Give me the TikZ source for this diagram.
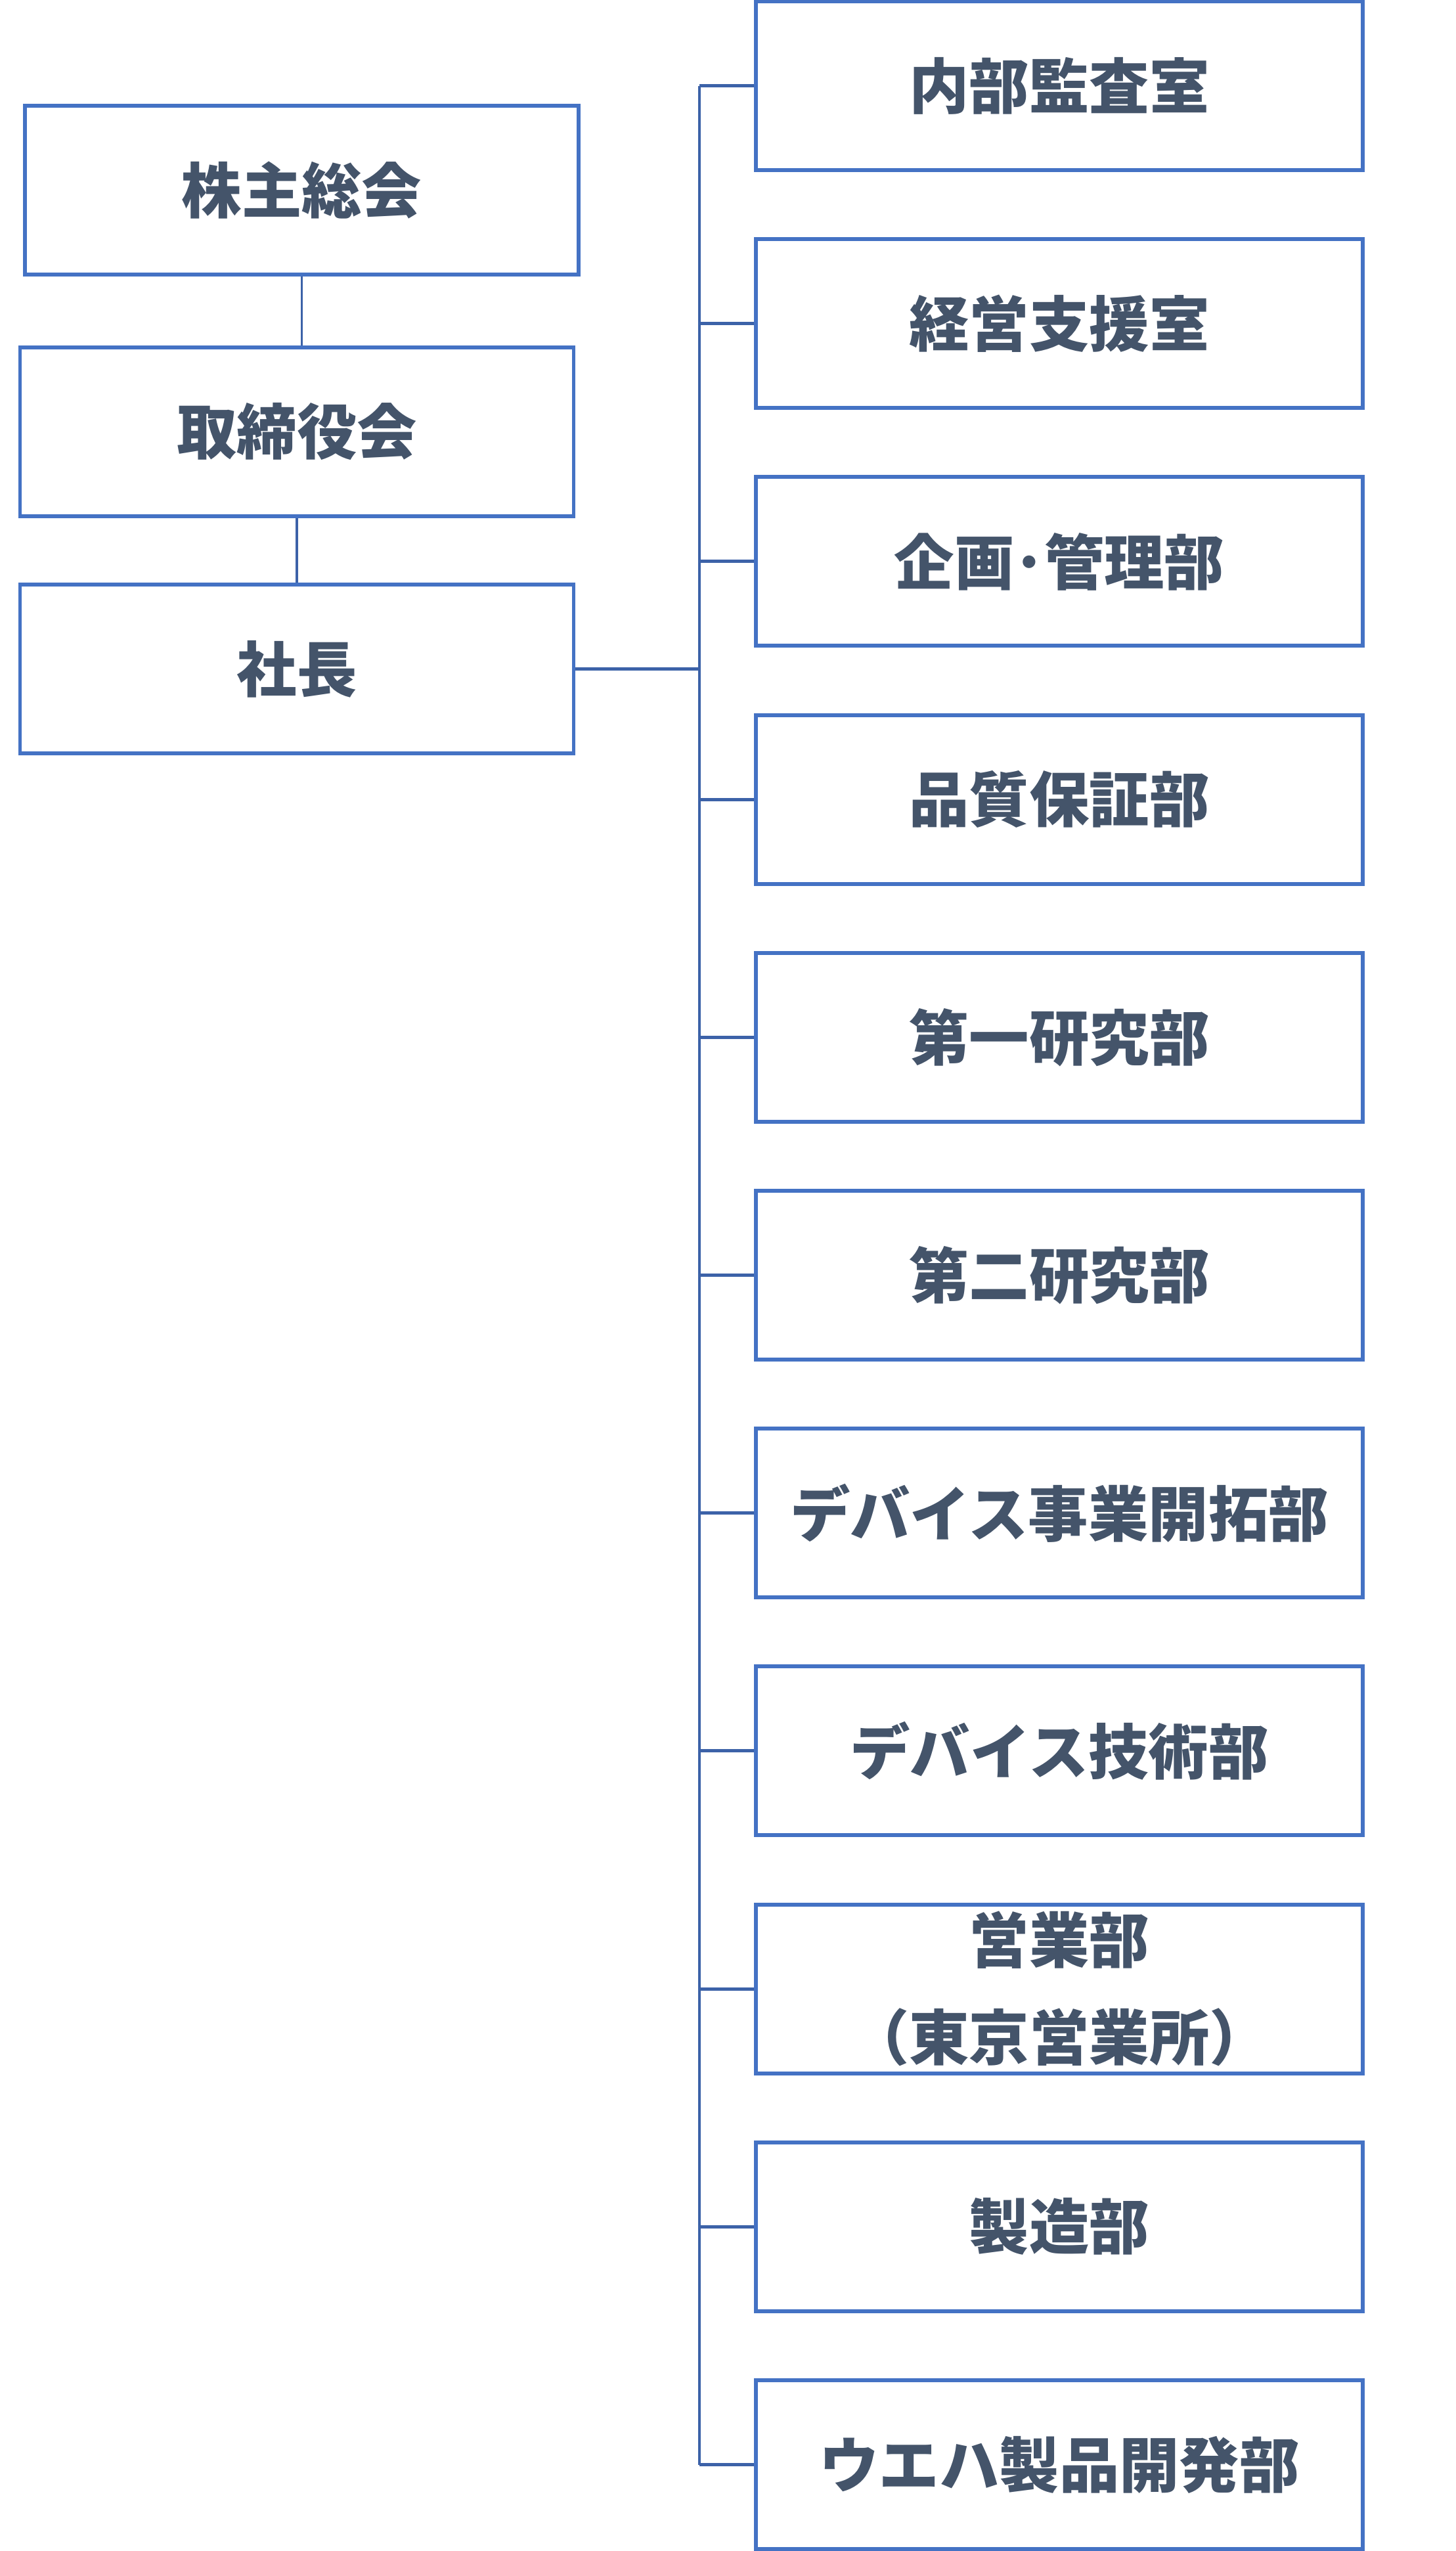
\documentclass[tikz,border=0pt]{standalone}
\usepackage{fontspec}
\newfontfamily\jpfont{Noto Sans CJK JP}
\usepackage{xcolor}
\usetikzlibrary{positioning, calc}
\definecolor{boxblue}{HTML}{4472C4}
\definecolor{linkblue}{HTML}{3C62A8}
\definecolor{textslate}{HTML}{44546A}

\begin{document}
\begin{tikzpicture}[
  unit/.style={draw=boxblue, line width=1.7pt, minimum width=8.43cm, minimum height=2.57cm,
    inner sep=0pt, text=textslate, align=center,
    font=\jpfont\bfseries\fontsize{26}{42}\selectfont},
  dept/.style={unit, minimum width=9.24cm},
  link/.style={draw=linkblue, line width=1.4pt}]
  % Page frame
  \useasboundingbox (0,0) rectangle (22.17,-38.84);

  % Left column: meeting, board, president
  \node[unit] (meeting) at (4.595,-2.895) {株主総会};
  \node[unit] (board) at (4.52,-6.57) {取締役会};
  \node[unit] (president) at (4.52,-10.185) {社長};

  \draw[link, line width=1.1pt] (meeting.south) -- (meeting.south |- board.north);
  \draw[link, line width=1.1pt] (board.south) -- (president.north);

  % Right column: departments
  \foreach \name/\label [count=\i from 0] in {audit/内部監査室, support/経営支援室,
      planning/企画･管理部, quality/品質保証部, lab1/第一研究部, lab2/第二研究部,
      devbiz/デバイス事業開拓部, devtech/デバイス技術部, sales/{営業部\\（東京営業所）},
      factory/製造部, wafer/ウエハ製品開発部} {
    \node[dept] (\name) at (16.13,{-1.305-3.622*\i}) {\label};
  }

  % Bus from president to departments
  \coordinate (bustop) at ($(audit.west)+(-0.83,0)$);
  \coordinate (busbottom) at ($(wafer.west)+(-0.83,0)$);
  \draw[link] (bustop) -- (busbottom);
  \draw[link] (president.east) -- (president.east -| bustop);
  \foreach \name in {audit, support, planning, quality, lab1, lab2, devbiz, devtech, sales, factory, wafer}
    \draw[link] (\name.west) -- (\name.west -| bustop);
\end{tikzpicture}
\end{document}
